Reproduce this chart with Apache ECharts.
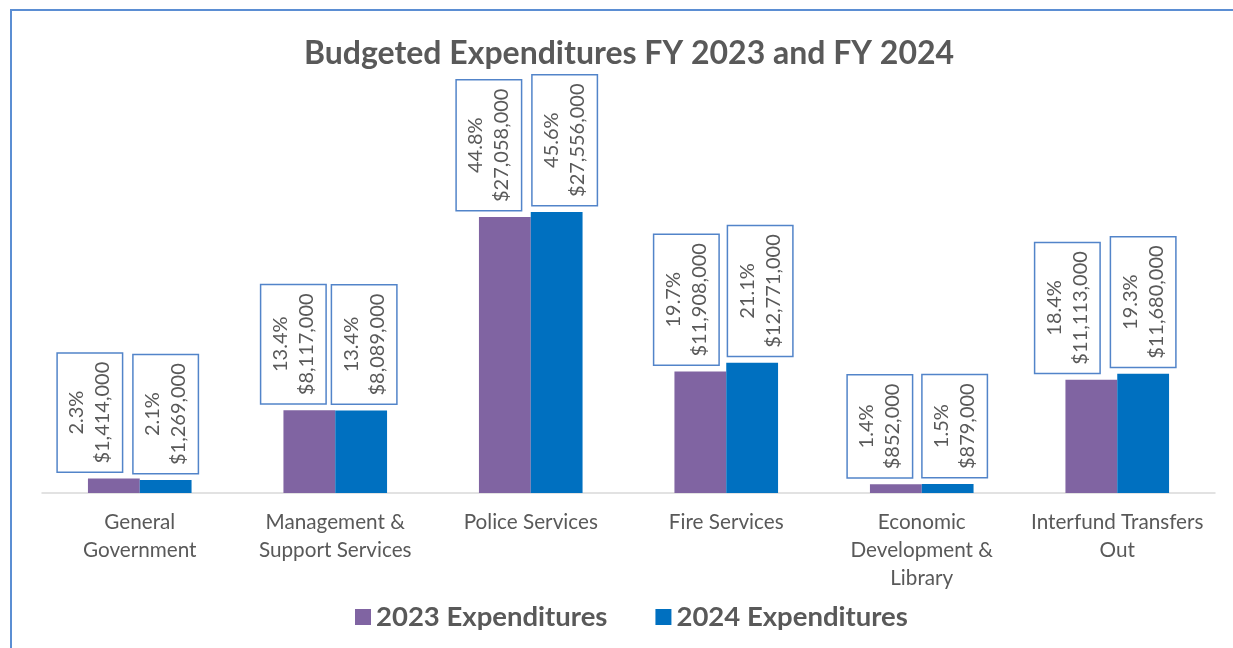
<!DOCTYPE html>
<html>
<head>
<meta charset="utf-8">
<title>Budgeted Expenditures FY 2023 and FY 2024</title>
<script src="https://cdn.jsdelivr.net/npm/echarts@6/dist/echarts.min.js"></script>
<style>
  html, body { margin: 0; padding: 0; background: #ffffff; }
  #chart { width: 1233px; height: 648px; }
</style>
</head>
<body>
<div id="chart"></div>
<script>
// Departments shown along the x axis
const categories = [
  'General\nGovernment',
  'Management &\nSupport Services',
  'Police Services',
  'Fire Services',
  'Economic\nDevelopment &\nLibrary',
  'Interfund Transfers\nOut'
];
const seriesNames = ['2023 Expenditures', '2024 Expenditures'];

// Budgeted amounts (USD)
const expenditures2023 = [1414000, 8117000, 27058000, 11908000, 852000, 11113000];
const expenditures2024 = [1269000, 8089000, 27556000, 12771000, 879000, 11680000];

// Share of the total budget, as published
const share2023 = ['2.3%', '13.4%', '44.8%', '19.7%', '1.4%', '18.4%'];
const share2024 = ['2.1%', '13.4%', '45.6%', '21.1%', '1.5%', '19.3%'];

// Sideways nudge of each callout box (px, negative = left)
const calloutShift2023 = [-24, -16, -16, -14, -16, -24];
const calloutShift2024 = [0, 3, 8, 8, 7, 0];

const FONT = 'Lato, "Open Sans", sans-serif';
const TEXT = '#595959';
const money = v => '$' + v.toLocaleString('en-US');

function buildSeries(name, values, shares, shifts, color) {
  return {
    name: name,
    type: 'bar',
    barGap: '0%',
    barCategoryGap: '47%',
    itemStyle: { color: color },
    data: values.map((v, i) => ({ value: v, label: { offset: [0, shifts[i]] } })),
    label: {
      show: true,
      position: 'top',
      distance: 7,
      rotate: 90,
      align: 'left',
      verticalAlign: 'middle',
      formatter: p => '{t|' + shares[p.dataIndex] + '}\n{t|' + money(p.value) + '}',
      rich: {
        t: { align: 'center', fontFamily: FONT, fontSize: 20, lineHeight: 26, color: TEXT }
      },
      backgroundColor: '#ffffff',
      borderColor: '#5284C9',
      borderWidth: 1.5,
      padding: [6, 8]
    }
  };
}

const chart = echarts.init(document.getElementById('chart'), null, { renderer: 'canvas' });
chart.setOption({
  animation: false,
  backgroundColor: '#ffffff',
  textStyle: { fontFamily: FONT },
  title: {
    text: 'Budgeted Expenditures FY 2023 and FY 2024',
    left: 624,
    textAlign: 'center',
    top: 33,
    textStyle: { fontFamily: FONT, fontSize: 32, fontWeight: 'bold', color: TEXT }
  },
  legend: {
    data: seriesNames,
    left: 350,
    top: 598,
    icon: 'rect',
    itemWidth: 16,
    itemHeight: 16,
    itemGap: 48,
    textStyle: { fontFamily: FONT, fontSize: 27.5, fontWeight: 'bold', color: TEXT }
  },
  grid: { left: 42, right: 18, top: 187, bottom: 155, containLabel: false, outerBoundsMode: 'none' },
  xAxis: {
    type: 'category',
    data: categories,
    axisLine: { lineStyle: { color: '#d9d9d9', width: 1.5 } },
    axisTick: { show: false },
    axisLabel: { interval: 0, margin: 15, fontFamily: FONT, fontSize: 20.7, lineHeight: 28, color: TEXT }
  },
  yAxis: {
    type: 'value',
    min: 0,
    max: 30000000,
    show: false,
    splitLine: { show: false }
  },
  graphic: [{
    type: 'rect',
    silent: true,
    shape: { x: 11, y: 10, width: 1260, height: 700 },
    style: { fill: 'none', stroke: '#5B8ED3', lineWidth: 2 }
  }],
  series: [
    buildSeries(seriesNames[0], expenditures2023, share2023, calloutShift2023, '#8064A2'),
    buildSeries(seriesNames[1], expenditures2024, share2024, calloutShift2024, '#0070C0')
  ]
});
</script>
</body>
</html>
